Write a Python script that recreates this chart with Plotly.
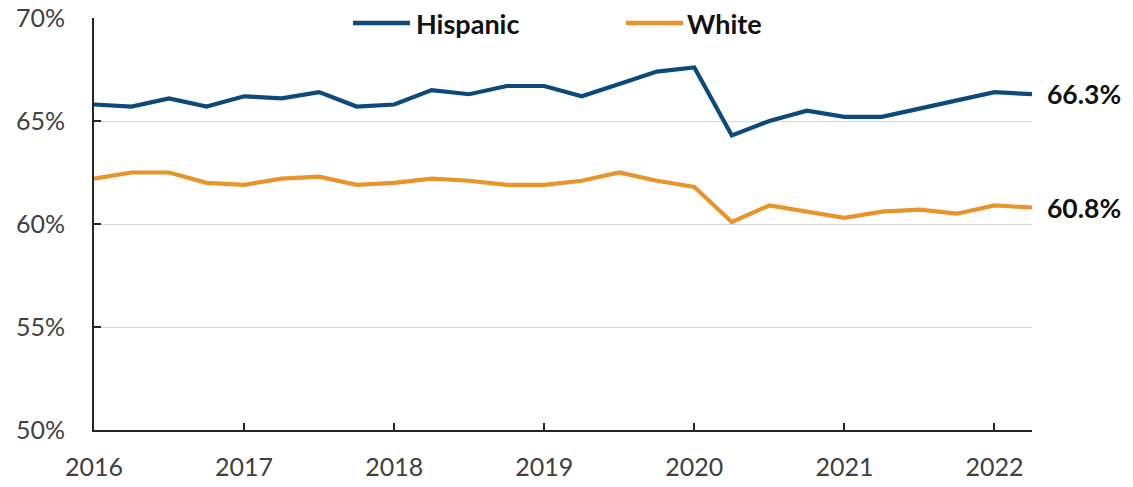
import plotly.graph_objects as go

# Quarterly observations, 2016 Q1 through 2022 Q2 (decimal years)
quarters = [2016 + 0.25 * i for i in range(26)]

hispanic = [65.8, 65.7, 66.1, 65.7, 66.2, 66.1, 66.4, 65.7, 65.8, 66.5,
            66.3, 66.7, 66.7, 66.2, 66.8, 67.4, 67.6, 64.3, 65.0, 65.5,
            65.2, 65.2, 65.6, 66.0, 66.4, 66.3]
white = [62.2, 62.5, 62.5, 62.0, 61.9, 62.2, 62.3, 61.9, 62.0, 62.2,
         62.1, 61.9, 61.9, 62.1, 62.5, 62.1, 61.8, 60.1, 60.9, 60.6,
         60.3, 60.6, 60.7, 60.5, 60.9, 60.8]

series_names = ["Hispanic", "White"]
series_colors = ["#0C4A7C", "#E8942A"]

x_ticks = [2016, 2017, 2018, 2019, 2020, 2021, 2022]
y_ticks = [50, 55, 60, 65, 70]

FONT = "Lato, 'Open Sans', sans-serif"
TEXT_COLOR = "#404040"

fig = go.Figure()
for name, vals, col in zip(series_names, [hispanic, white], series_colors):
    fig.add_trace(go.Scatter(
        x=quarters, y=vals, mode="lines", name=name,
        line=dict(color=col, width=4.2), showlegend=False,
    ))
    # value label at the end of each line
    fig.add_annotation(
        x=quarters[-1], y=vals[-1], text=f"<b>{vals[-1]:.1f}%</b>",
        showarrow=False, xanchor="left", yanchor="middle", xshift=13,
        font=dict(family=FONT, size=26.5, color="#111111"),
    )

# Legend drawn in the top band, on a white box that hides the gridline
L, R, T, B = 94, 1032, 18, 430
def px(xp):
    return (xp - L) / (R - L)
def py(yp):
    return (B - yp) / (B - T)

fig.add_shape(type="rect", xref="paper", yref="paper",
              x0=px(253), x1=px(862), y0=py(34), y1=py(4),
              fillcolor="white", line=dict(width=0), layer="between")

legend_items = [(353, 410, 414), (626, 683, 685)]
for (lx0, lx1, tx), name, col in zip(legend_items, series_names, series_colors):
    fig.add_shape(type="line", xref="paper", yref="paper",
                  x0=px(lx0), x1=px(lx1), y0=py(23), y1=py(23),
                  line=dict(color=col, width=4.5), layer="above")
    fig.add_annotation(xref="paper", yref="paper", x=px(tx), y=py(23),
                       text=f"<b>{name}</b>", showarrow=False,
                       xanchor="left", yanchor="middle",
                       font=dict(family=FONT, size=27, color="#111111"))

fig.update_xaxes(
    range=[2016, 2022.25], tickmode="array", tickvals=x_ticks,
    ticktext=[str(t) for t in x_ticks],
    showgrid=False, zeroline=False, automargin=False,
    showline=True, linecolor="#262626", linewidth=2,
    ticks="inside", ticklen=7, tickcolor="#262626", tickwidth=1.5,
    tickfont=dict(family=FONT, size=25, color=TEXT_COLOR),
    ticklabelstandoff=14,
)
fig.update_yaxes(
    range=[50, 70], tickmode="array", tickvals=y_ticks,
    ticktext=[f"{t}%" for t in y_ticks],
    showgrid=True, gridcolor="#D9D9D9", gridwidth=1.3, zeroline=False,
    automargin=False,
    showline=True, linecolor="#262626", linewidth=2,
    ticks="inside", ticklen=7, tickcolor="#262626", tickwidth=1.5,
    tickfont=dict(family=FONT, size=25, color=TEXT_COLOR),
    ticklabelstandoff=22,
)

fig.update_layout(
    width=1133, height=487,
    margin=dict(l=L, r=1133 - R, t=T, b=487 - B),
    plot_bgcolor="white", paper_bgcolor="white",
    font=dict(family=FONT),
)

fig.write_html("out.html")
